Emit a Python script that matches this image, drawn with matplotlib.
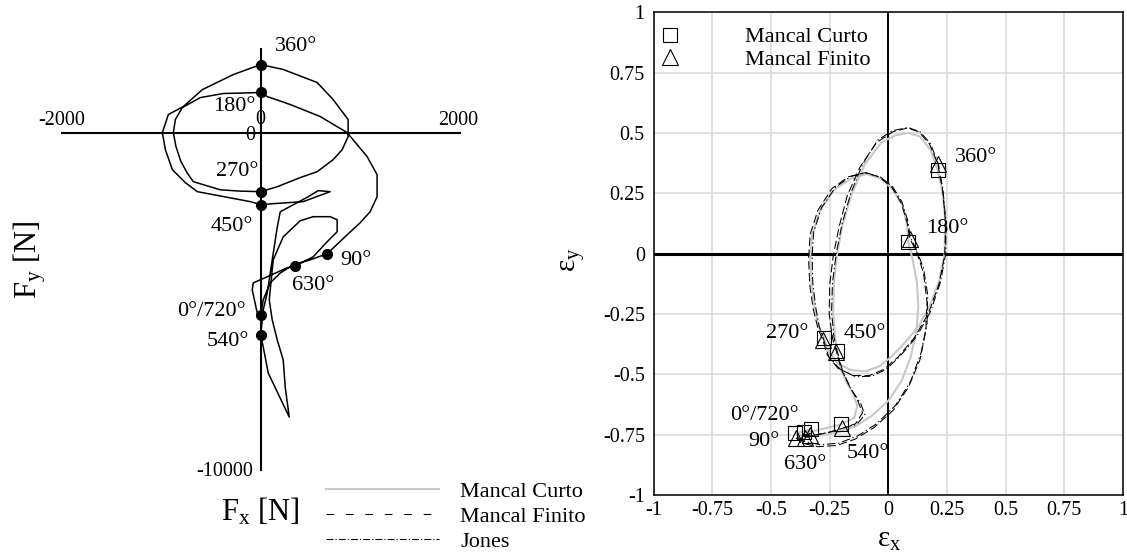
import matplotlib
matplotlib.use("Agg")
import matplotlib.pyplot as plt
from matplotlib.lines import Line2D

plt.rcParams["font.family"] = ["Liberation Serif", "DejaVu Serif"]
plt.rcParams["mathtext.fontset"] = "custom"
plt.rcParams["mathtext.rm"] = "Liberation Serif"
plt.rcParams["mathtext.it"] = "Liberation Serif:italic"
plt.rcParams["lines.scale_dashes"] = False

# ---------------------------------------------------------------- data
ANGLES = [0, 90, 180, 270, 360, 450, 540, 630, 720]

# bearing load polar diagram [N]: load at each labelled crank angle
force_at = [(0, -5390), (665, -3580), (0, 1185), (0, -1745), (0, 2010),
            (0, -2130), (0, -5980), (345, -3940), (0, -5390)]
# load between successive labelled crank angles
force_mid = [
    [(25, -4940), (95, -4440), (195, -4150), (330, -3900), (495, -3760)],
    [(865, -3020), (995, -2665), (1095, -2340), (1165, -1895), (1165, -1245),
     (1065, -710), (865, 0), (595, 475), (295, 830), (65, 1065)],
    [(-375, 1155), (-605, 1035), (-785, 740), (-855, 385), (-875, 0),
     (-850, -400), (-800, -850), (-735, -1200), (-675, -1450), (-405, -1690),
     (-205, -1730)],
    [(165, -1600), (395, -1330), (565, -1155), (725, -800), (815, -505),
     (875, -120), (875, 385), (725, 975), (565, 1480), (225, 1865)],
    [(-275, 1715), (-585, 1270), (-775, 770), (-925, 535), (-985, 0),
     (-955, -505), (-885, -1095), (-755, -1480), (-635, -1745), (-105, -2040)],
    [(125, -2100), (425, -2040), (695, -1745), (575, -1715), (475, -1895),
     (195, -2340), (165, -2800), (115, -3760), (65, -4735), (25, -5240)],
    [(25, -6335), (75, -7105), (285, -8405), (245, -7520), (225, -6720),
     (165, -6125), (115, -5535), (85, -4945), (125, -3760), (225, -3080),
     (395, -2605), (525, -2485), (695, -2485), (765, -2575), (765, -2930),
     (665, -3225), (525, -3670)],
    [(265, -3995), (65, -4260), (-75, -4440), (-85, -4650), (-35, -5330)],
]

# journal centre orbits (eccentricity ratio): short bearing
curto_at = [(-0.330, -0.728), (-0.396, -0.745), (0.085, 0.049), (-0.274, -0.351),
            (0.210, 0.348), (-0.218, -0.404), (-0.200, -0.707), (-0.358, -0.738),
            (-0.330, -0.728)]
curto_mid = [
    [(-0.365, -0.737)],
    [(-0.37, -0.752), (-0.30, -0.752), (-0.22, -0.742), (-0.14, -0.715),
     (-0.07, -0.672), (0.00, -0.610), (0.055, -0.530), (0.095, -0.430),
     (0.120, -0.320), (0.128, -0.220), (0.122, -0.120), (0.105, -0.030)],
    [(0.080, 0.120), (0.060, 0.200), (0.020, 0.265), (-0.030, 0.310),
     (-0.092, 0.330), (-0.160, 0.310), (-0.230, 0.265), (-0.290, 0.180),
     (-0.325, 0.080), (-0.333, -0.020), (-0.328, -0.120), (-0.315, -0.220),
     (-0.298, -0.300)],
    [(-0.255, -0.405), (-0.215, -0.455), (-0.160, -0.482), (-0.100, -0.488),
     (-0.040, -0.468), (0.010, -0.430), (0.070, -0.370), (0.130, -0.300),
     (0.180, -0.210), (0.218, -0.110), (0.240, 0.000), (0.243, 0.130),
     (0.232, 0.250)],
    [(0.180, 0.430), (0.135, 0.485), (0.085, 0.500), (0.030, 0.490),
     (-0.030, 0.460), (-0.100, 0.370), (-0.155, 0.250), (-0.195, 0.120),
     (-0.218, 0.000), (-0.232, -0.120), (-0.235, -0.240), (-0.228, -0.340)],
    [(-0.205, -0.470), (-0.180, -0.530), (-0.150, -0.580), (-0.132, -0.630),
     (-0.145, -0.680)],
    [(-0.260, -0.722), (-0.320, -0.735)],
    [(-0.345, -0.733)],
]

# finite bearing
finito_at = [(-0.335, -0.750), (-0.392, -0.765), (0.092, 0.061), (-0.279, -0.358),
             (0.211, 0.372), (-0.221, -0.406), (-0.196, -0.724), (-0.355, -0.762),
             (-0.335, -0.750)]
finito_mid = [
    [(-0.365, -0.757)],
    [(-0.37, -0.785), (-0.30, -0.800), (-0.22, -0.795), (-0.14, -0.768),
     (-0.06, -0.720), (0.02, -0.650), (0.085, -0.555), (0.135, -0.440),
     (0.160, -0.320), (0.165, -0.200), (0.150, -0.080), (0.120, 0.010)],
    [(0.080, 0.130), (0.055, 0.210), (0.015, 0.275), (-0.040, 0.318),
     (-0.100, 0.335), (-0.170, 0.318), (-0.240, 0.270), (-0.300, 0.180),
     (-0.333, 0.080), (-0.340, -0.020), (-0.335, -0.130), (-0.320, -0.230),
     (-0.300, -0.310)],
    [(-0.260, -0.420), (-0.215, -0.475), (-0.150, -0.505), (-0.080, -0.505),
     (-0.020, -0.480), (0.040, -0.430), (0.110, -0.350), (0.170, -0.250),
     (0.215, -0.130), (0.240, -0.010), (0.245, 0.120), (0.232, 0.260)],
    [(0.175, 0.455), (0.130, 0.505), (0.080, 0.520), (0.020, 0.505),
     (-0.050, 0.460), (-0.120, 0.360), (-0.175, 0.240), (-0.210, 0.110),
     (-0.235, -0.010), (-0.250, -0.130), (-0.252, -0.250), (-0.238, -0.350)],
    [(-0.200, -0.480), (-0.165, -0.550), (-0.130, -0.610), (-0.110, -0.660),
     (-0.140, -0.705)],
    [(-0.250, -0.740), (-0.310, -0.752)],
    [(-0.345, -0.756)],
]

# Jones method
jones_at = [(-0.332, -0.745), (-0.390, -0.760), (0.095, 0.065), (-0.276, -0.355),
            (0.214, 0.370), (-0.218, -0.405), (-0.192, -0.722), (-0.350, -0.758),
            (-0.332, -0.745)]
jones_mid = [
    [(-0.360, -0.752)],
    [(-0.36, -0.778), (-0.29, -0.792), (-0.21, -0.785), (-0.13, -0.755),
     (-0.05, -0.705), (0.03, -0.630), (0.095, -0.530), (0.140, -0.410),
     (0.165, -0.290), (0.168, -0.170), (0.150, -0.060), (0.118, 0.020)],
    [(0.082, 0.140), (0.058, 0.215), (0.018, 0.278), (-0.035, 0.318),
     (-0.095, 0.335), (-0.160, 0.320), (-0.225, 0.275), (-0.285, 0.190),
     (-0.318, 0.090), (-0.325, -0.010), (-0.322, -0.120), (-0.310, -0.220),
     (-0.295, -0.300)],
    [(-0.255, -0.425), (-0.205, -0.480), (-0.140, -0.510), (-0.070, -0.508),
     (-0.010, -0.480), (0.050, -0.425), (0.120, -0.345), (0.180, -0.240),
     (0.222, -0.120), (0.245, 0.000), (0.246, 0.130), (0.233, 0.265)],
    [(0.180, 0.455), (0.135, 0.505), (0.085, 0.522), (0.020, 0.510),
     (-0.045, 0.470), (-0.110, 0.370), (-0.160, 0.250), (-0.198, 0.120),
     (-0.222, 0.000), (-0.238, -0.120), (-0.242, -0.240), (-0.232, -0.345)],
    [(-0.195, -0.485), (-0.160, -0.560), (-0.118, -0.620), (-0.100, -0.668),
     (-0.135, -0.708)],
    [(-0.245, -0.738), (-0.305, -0.750)],
    [(-0.342, -0.752)],
]

eps_ticks = [-1, -0.75, -0.5, -0.25, 0, 0.25, 0.5, 0.75, 1]
eps_tick_labels = ["-1", "-0.75", "-0.5", "-0.25", "0", "0.25", "0.5", "0.75", "1"]
series_names = ["Mancal Curto", "Mancal Finito", "Jones"]


def build_path(at_pts, mid_pts):
    xs, ys = [], []
    for k, seg in enumerate(mid_pts):
        xs.append(at_pts[k][0])
        ys.append(at_pts[k][1])
        for x, y in seg:
            xs.append(x)
            ys.append(y)
    xs.append(at_pts[-1][0])
    ys.append(at_pts[-1][1])
    return xs, ys


W, H = 1127, 556
fig = plt.figure(figsize=(W / 100, H / 100), dpi=100)


def fx(px):
    return px / W


def fy(py):
    return 1 - py / H


# ---------------------------------------------------------------- load polar
axL = fig.add_axes([fx(61), fy(471), 399.5 / W, 423 / H])
axL.set_xlim(-2000, 2000)
axL.set_ylim(-10000, 2500)
axL.axis("off")
axL.axhline(0, color="k", lw=1.5, zorder=2)
axL.axvline(0, color="k", lw=1.5, zorder=2)

lx, ly = build_path(force_at, force_mid)
axL.plot(lx, ly, color="k", lw=1.1, zorder=3)
axL.plot([p[0] for p in force_at[:-1]], [p[1] for p in force_at[:-1]],
         "o", color="k", ms=7, zorder=4, clip_on=False)

lfs = 16
axL.text(145, 2544, "360°", fontsize=lfs, ha="left", va="center")
axL.text(-55, 760, "180°", fontsize=lfs, ha="right", va="center")
axL.text(-25, -1150, "270°", fontsize=lfs, ha="right", va="center")
axL.text(-75, -2775, "450°", fontsize=lfs, ha="right", va="center")
axL.text(796, -3765, "90°", fontsize=lfs, ha="left", va="center")
axL.text(315, -4504, "630°", fontsize=lfs, ha="left", va="center")
axL.text(-155, -5287, "0°/720°", fontsize=lfs, ha="right", va="center")
axL.text(-115, -6173, "540°", fontsize=lfs, ha="right", va="center")

tfs = 14.5
axL.text(-1990, 358, "-2000", fontsize=tfs, ha="center", va="center")
axL.text(1977, 358, "2000", fontsize=tfs, ha="center", va="center")
axL.text(0, 380, "0", fontsize=tfs, ha="center", va="center")
axL.text(-60, -90, "0", fontsize=tfs, ha="right", va="center")
axL.text(-75, -10015, "-10000", fontsize=tfs, ha="right", va="center")

fig.text(fx(30), fy(260), "F$_\\mathrm{y}$ [N]", rotation=90, fontsize=22,
         ha="center", va="center")
fig.text(fx(260), fy(512), "F$_\\mathrm{x}$ [N]", fontsize=22,
         ha="center", va="center")

# ---------------------------------------------------------------- orbits
axR = fig.add_axes([fx(653.8), fy(495), 469 / W, 482.8 / H])
axR.set_xlim(-1, 1)
axR.set_ylim(-1, 1)
axR.set_xticks(eps_ticks)
axR.set_xticklabels(eps_tick_labels)
axR.set_yticks(eps_ticks)
axR.set_yticklabels(eps_tick_labels)
axR.tick_params(length=0, labelsize=14.5)
axR.tick_params(axis="y", pad=6.5)
axR.tick_params(axis="x", pad=4)
axR.grid(True, color="#d9d9d9", lw=1.1)
axR.set_axisbelow(True)
for sp in axR.spines.values():
    sp.set_linewidth(1.1)
axR.axhline(0, color="k", lw=2.2, zorder=1.5)
axR.axvline(0, color="k", lw=1.4, zorder=1.5)

cx, cy = build_path(curto_at, curto_mid)
nx, ny = build_path(finito_at, finito_mid)
jx, jy = build_path(jones_at, jones_mid)
axR.plot(cx, cy, color="#c8c8c8", lw=1.5, zorder=3)
axR.plot(nx, ny, color="k", lw=0.75, dashes=(6, 2.5), zorder=3)
axR.plot(jx, jy, color="k", lw=0.75, dashes=(6, 2, 1, 2), zorder=3)

axR.plot([p[0] for p in curto_at[:-1]], [p[1] for p in curto_at[:-1]], "s",
         ms=10, mfc="none", mec="k", mew=0.8, zorder=4)
axR.plot([p[0] for p in finito_at[:-1]], [p[1] for p in finito_at[:-1]], "^",
         ms=11, mfc="none", mec="k", mew=0.8, zorder=4)

rfs = 16
axR.text(0.285, 0.400, "360°", fontsize=rfs, ha="left", va="center")
axR.text(0.161, 0.102, "180°", fontsize=rfs, ha="left", va="center")
axR.text(-0.341, -0.333, "270°", fontsize=rfs, ha="right", va="center")
axR.text(-0.192, -0.333, "450°", fontsize=rfs, ha="left", va="center")
axR.text(-0.380, -0.669, "0°/720°", fontsize=rfs, ha="right", va="center")
axR.text(-0.462, -0.780, "90°", fontsize=rfs, ha="right", va="center")
axR.text(-0.353, -0.872, "630°", fontsize=rfs, ha="center", va="center")
axR.text(-0.177, -0.830, "540°", fontsize=rfs, ha="left", va="center")

fig.text(fx(573), fy(260), "ε$_\\mathrm{y}$", rotation=90, fontsize=21,
         ha="center", va="center")
fig.text(fx(889), fy(540), "ε$_\\mathrm{x}$", fontsize=21,
         ha="center", va="center")

mk_handles = [
    Line2D([], [], ls="none", marker="s", ms=10, mfc="none", mec="k", mew=0.8),
    Line2D([], [], ls="none", marker="^", ms=11, mfc="none", mec="k", mew=0.8),
]
axR.legend(mk_handles, series_names[:2], loc="upper left",
           bbox_to_anchor=(0.0, 0.975), frameon=False, fontsize=16,
           borderpad=0, borderaxespad=0.12, handlelength=1.2,
           handletextpad=2.8, labelspacing=0.1)

ln_handles = [
    Line2D([], [], color="#c8c8c8", lw=1.5),
    Line2D([], [], color="k", lw=0.75, dashes=(5.5, 8.5)),
    Line2D([], [], color="k", lw=0.75, dashes=(5, 1.5, 0.8, 1.5)),
]
fig.legend(ln_handles, series_names, loc="upper left",
           bbox_to_anchor=(fx(326), fy(481)), frameon=False, fontsize=16,
           borderpad=0, borderaxespad=0, handlelength=5.1,
           handletextpad=0.95, labelspacing=0.2)

fig.savefig("out.png", dpi=100)
